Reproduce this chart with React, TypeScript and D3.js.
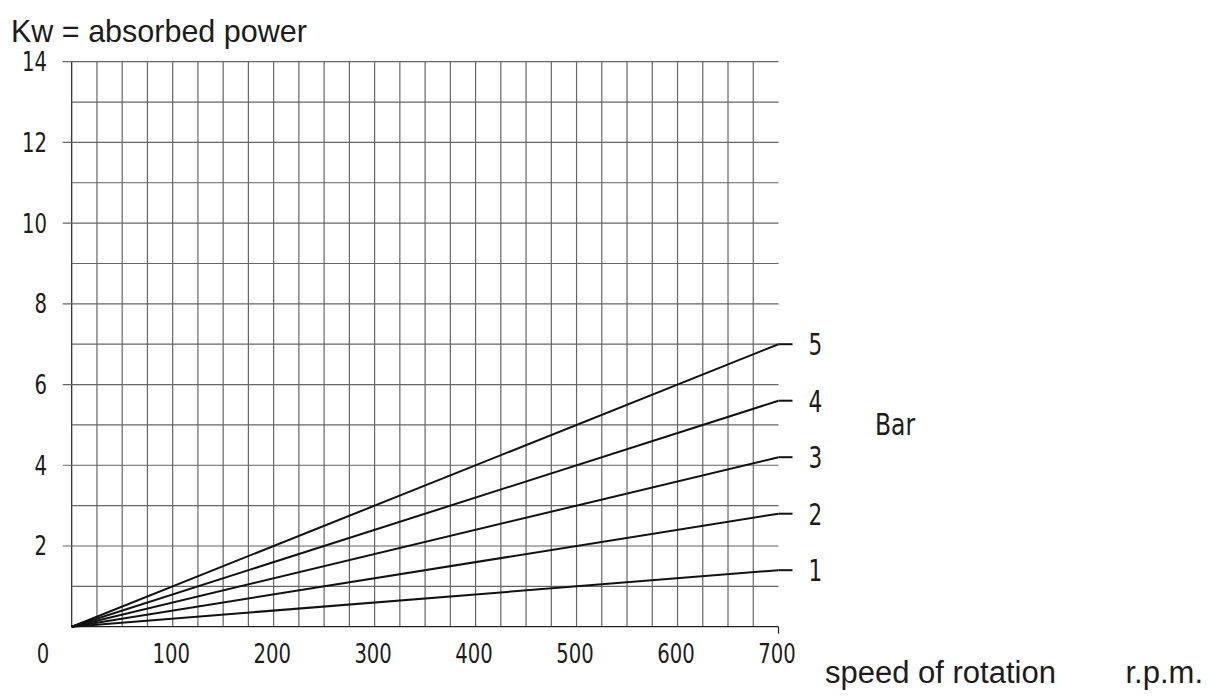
import React from "react";
import * as d3 from "d3";

const pressures = [1, 2, 3, 4, 5];
const powerAt700 = [1.4, 2.8, 4.2, 5.6, 7.0];
const rpmDomain = [0, 700];
const kwDomain = [0, 14];
const xTickLabels = [100, 200, 300, 400, 500, 600, 700];
const yTickLabels = [2, 4, 6, 8, 10, 12, 14];
const xGridStep = 25;
const yGridStep = 1;

const W = 1208;
const H = 698;
const NARROW = "'DejaVu Sans Condensed', 'DejaVu Sans', sans-serif";
const SANS = "'Liberation Sans', Arial, sans-serif";
const INK = "#1c1c1c";

function NText({
  x,
  y,
  size,
  sx,
  anchor,
  children,
}: {
  x: number;
  y: number;
  size: number;
  sx: number;
  anchor?: string;
  children: React.ReactNode;
}) {
  return (
    <text
      transform={`translate(${x},${y}) scale(${sx},1)`}
      textAnchor={anchor || "start"}
      fontFamily={NARROW}
      fontSize={size}
      fill={INK}
    >
      {children}
    </text>
  );
}

export default function App() {
  const x = d3.scaleLinear().domain(rpmDomain).range([71.7, 778.5]);
  const y = d3.scaleLinear().domain(kwDomain).range([626.7, 61.7]);

  const xGrid = d3.range(rpmDomain[0], rpmDomain[1] + 0.001, xGridStep);
  const yGrid = d3.range(kwDomain[0], kwDomain[1] + 0.001, yGridStep);

  const line = d3
    .line<[number, number]>()
    .x((d) => x(d[0]))
    .y((d) => y(d[1]));

  return (
    <svg
      width={W}
      height={H}
      style={{ position: "absolute", left: 0, top: 0, background: "#fff" }}
    >
      <text x={11} y={42} fontFamily={SANS} fontSize={30.5} fill={INK}>
        Kw = absorbed power
      </text>

      {xGrid.map((v) => (
        <line
          key={"xg" + v}
          x1={x(v)}
          x2={x(v)}
          y1={y(kwDomain[0])}
          y2={v === rpmDomain[1] ? y(kwDomain[0]) + 7 : y(kwDomain[1])}
          stroke={v === 0 || v === rpmDomain[1] ? "#222" : "#666"}
          strokeWidth={1.2}
        />
      ))}
      {yGrid.map((v) => (
        <line
          key={"yg" + v}
          x1={v % 2 === 0 && v > 0 ? x(0) - 9 : x(0)}
          x2={x(rpmDomain[1])}
          y1={y(v)}
          y2={y(v)}
          stroke={v === 0 ? "#222" : "#666"}
          strokeWidth={1.2}
        />
      ))}

      {powerAt700.map((p, i) => (
        <g key={"s" + i}>
          <path
            d={line([
              [0, 0],
              [700, p],
            ]) || ""}
            fill="none"
            stroke="#111"
            strokeWidth={2}
          />
          <line
            x1={x(700)}
            x2={x(700) + 14}
            y1={y(p)}
            y2={y(p)}
            stroke="#111"
            strokeWidth={2}
          />
          <NText x={x(700) + 30} y={y(p) + 11} size={30} sx={0.8}>
            {pressures[i]}
          </NText>
        </g>
      ))}

      <NText x={875} y={435} size={30} sx={0.87}>
        Bar
      </NText>

      {yTickLabels.map((v) => (
        <NText key={"yl" + v} x={47} y={y(v) + 9.5} size={26} sx={0.84} anchor="end">
          {v}
        </NText>
      ))}
      <NText x={43} y={663} size={26} sx={0.84} anchor="middle">
        0
      </NText>
      {xTickLabels.map((v) => (
        <NText key={"xl" + v} x={x(v) - 1.5} y={663} size={26} sx={0.84} anchor="middle">
          {v}
        </NText>
      ))}

      <text x={825} y={683} fontFamily={SANS} fontSize={31} fill={INK}>
        speed of rotation
      </text>
      <text x={1203} y={683} textAnchor="end" fontFamily={SANS} fontSize={31} fill={INK}>
        r.p.m.
      </text>
    </svg>
  );
}
